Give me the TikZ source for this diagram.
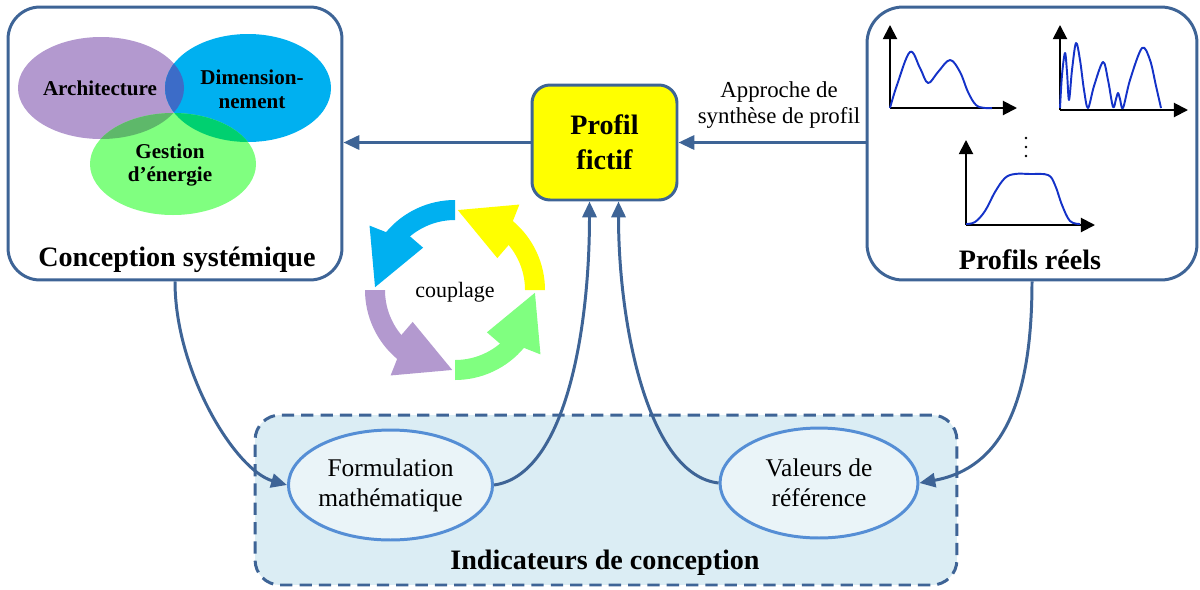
\documentclass[tikz,border=0pt]{standalone}
\usepackage{fontspec}
\setmainfont{Liberation Serif}
\usetikzlibrary{arrows.meta,calc,shapes.geometric}
\definecolor{edge}{RGB}{62,100,150}
\definecolor{ellb}{RGB}{85,142,213}
\definecolor{ellf}{RGB}{234,244,248}
\definecolor{icfill}{RGB}{219,237,244}
\definecolor{cpur}{RGB}{179,153,207}
\definecolor{cblu}{RGB}{0,176,240}
\definecolor{cgrn}{RGB}{128,255,128}
\definecolor{cyel}{RGB}{255,255,0}
\definecolor{cpb}{RGB}{60,108,200}
\definecolor{cpg}{RGB}{94,184,106}
\definecolor{cbg}{RGB}{0,208,112}
\definecolor{cpbg}{RGB}{40,130,130}
\definecolor{curveblue}{RGB}{20,50,200}
\tikzset{
  panel/.style={draw=edge, line width=1.7pt, inner sep=0pt},
  conn/.style={draw=edge, line width=1.7pt, -{Triangle[length=9pt,width=8pt]}},
  ovalnode/.style={ellipse, draw=ellb, fill=ellf, line width=1.7pt, inner sep=0pt,
    minimum width=3.94cm, minimum height=2.2cm, align=center,
    font=\fontsize{14.5}{17}\selectfont},
  title/.style={font=\fontsize{16}{19}\selectfont\bfseries},
  venn/.style={font=\fontsize{12}{13.6}\selectfont\bfseries, align=center},
  axis/.style={line width=1.1pt, -{Triangle[length=8pt,width=8pt]}},
  prof/.style={draw=curveblue, line width=1.1pt, line join=round},
}
\begin{document}
\begin{tikzpicture}[x=0.02cm,y=-0.02cm]
\useasboundingbox (0,0) rectangle (1200,589);

% ---------- bottom dashed panel ----------
\node[draw=edge, fill=icfill, line width=1.7pt, dash pattern=on 7pt off 4pt,
      rounded corners=0.5cm, minimum width=14.04cm, minimum height=3.4cm, inner sep=0pt]
      (ic) at (606,500) {};
\node[title] (icl) at (605,563) {Indicateurs de conception};
\node[ovalnode] (fm) at (390.5,485) {Formulation\\mathématique};
\node[ovalnode, minimum width=3.96cm] (vr) at (819,483) {Valeurs de\\référence};

% ---------- left panel ----------
\node[panel, rounded corners=0.64cm, minimum width=6.68cm, minimum height=5.46cm] (cs) at (175,143.5) {};
\fill[cpur] (101,88) ellipse [x radius=83, y radius=51];
\fill[cblu] (248,88) ellipse [x radius=83, y radius=54];
\fill[cgrn] (173,164) ellipse [x radius=83, y radius=51];
\begin{scope}
  \clip (248,88) ellipse [x radius=83, y radius=54];
  \fill[cbg] (173,164) ellipse [x radius=83, y radius=51];
\end{scope}
\begin{scope}
  \clip (101,88) ellipse [x radius=83, y radius=51];
  \fill[cpb] (248,88) ellipse [x radius=83, y radius=54];
  \fill[cpg] (173,164) ellipse [x radius=83, y radius=51];
  \clip (248,88) ellipse [x radius=83, y radius=54];
  \fill[cpbg] (173,164) ellipse [x radius=83, y radius=51];
\end{scope}
\node[venn] (v1) at (100,88) {Architecture};
\node[venn] (v2) at (252,89) {Dimension-\\nement};
\node[venn] (v3) at (170,165) {Gestion\\d’énergie};
\node[title] (csl) at (177,260) {Conception systémique};

% ---------- right panel ----------
\node[panel, rounded corners=0.72cm, minimum width=6.6cm, minimum height=5.46cm] (pr) at (1032,143.5) {};
% plot 1
\draw[axis] (890,108) -- (890,25);
\draw[axis] (890,108) -- (1017,108);
\draw[prof] plot[smooth, tension=0.6] coordinates {(890,108) (897,85) (910,52) (920,68) (928,83) (938,72) (950,60) (960,72) (968,92) (976,105) (985,108) (992,108)};
% plot 2
\draw[axis] (1060,110) -- (1060,25);
\draw[axis] (1060,110) -- (1188,110);
\draw[prof] plot[smooth, tension=0.55] coordinates {(1060,108) (1062,75) (1065,53) (1067,72) (1069,100) (1072,70) (1076,43) (1080,60) (1084,90) (1088,108) (1094,86) (1103,62) (1108,80) (1113,107) (1116,99) (1118,93) (1120,99) (1123,108) (1130,80) (1142,48) (1150,60) (1156,86) (1161,108)};
% dots
\fill (1026,138) circle (1.4);
\fill (1026,147) circle (1.4);
\fill (1026,156) circle (1.4);
% plot 3
\draw[axis] (966,225) -- (966,140);
\draw[axis] (966,225) -- (1095,225);
\draw[prof] plot[smooth, tension=0.6] coordinates {(966,224) (975,222) (985,211) (995,192) (1005,178) (1015,174) (1030,174) (1048,175) (1055,185) (1062,205) (1070,221) (1080,224)};
\node[title] (prl) at (1030,260) {Profils réels};

% ---------- central box ----------
\node[draw=edge, fill=cyel, line width=1.7pt, rounded corners=0.36cm, minimum width=2.9cm,
      minimum height=2.3cm, align=center, font=\fontsize{16}{19.8}\selectfont\bfseries]
      (pf) at (604.5,142.5) {Profil\\fictif};

\draw[conn] (pf.west) -- (pf.west -| cs.east);
\draw[conn] (pr.west |- pf.east) -- (pf.east);
\node[font=\fontsize{13}{14.7}\selectfont, align=center] (lab) at (779,105) {Approche de\\synthèse de profil};

% ---------- coupling cycle ----------
\begin{scope}[shift={(455,290)}, yscale=-1]
\foreach \a/\c in {0/cyel,90/cblu,180/cpur,270/cgrn}{
  \fill[\c] (\a:70) arc[start angle=\a, end angle=\a+40, radius=70]
     -- ({\a+37}:53) -- ({\a+88}:80) -- ({\a+53}:107) -- ({\a+50}:90)
     arc[start angle=\a+50, end angle=\a, radius=90] -- cycle;
}
\end{scope}
\node[font=\fontsize{12.5}{14}\selectfont] (cp) at (455,292) {couplage};

% ---------- curved connectors ----------
\draw[conn] (cs.south) .. controls +(0,90) and +(-52,-15) .. (fm.west);
\draw[conn] (fm.east) .. controls +(71,-10) and +(0,130) .. ($(pf.south)+(-15,0)$);
\draw[conn] (vr.west) .. controls +(-70,-8) and +(0,125) .. ($(pf.south)+(14,0)$);
\draw[conn] (pr.south) .. controls +(0,120) and +(83,-15) .. (vr.east);
\end{tikzpicture}
\end{document}
